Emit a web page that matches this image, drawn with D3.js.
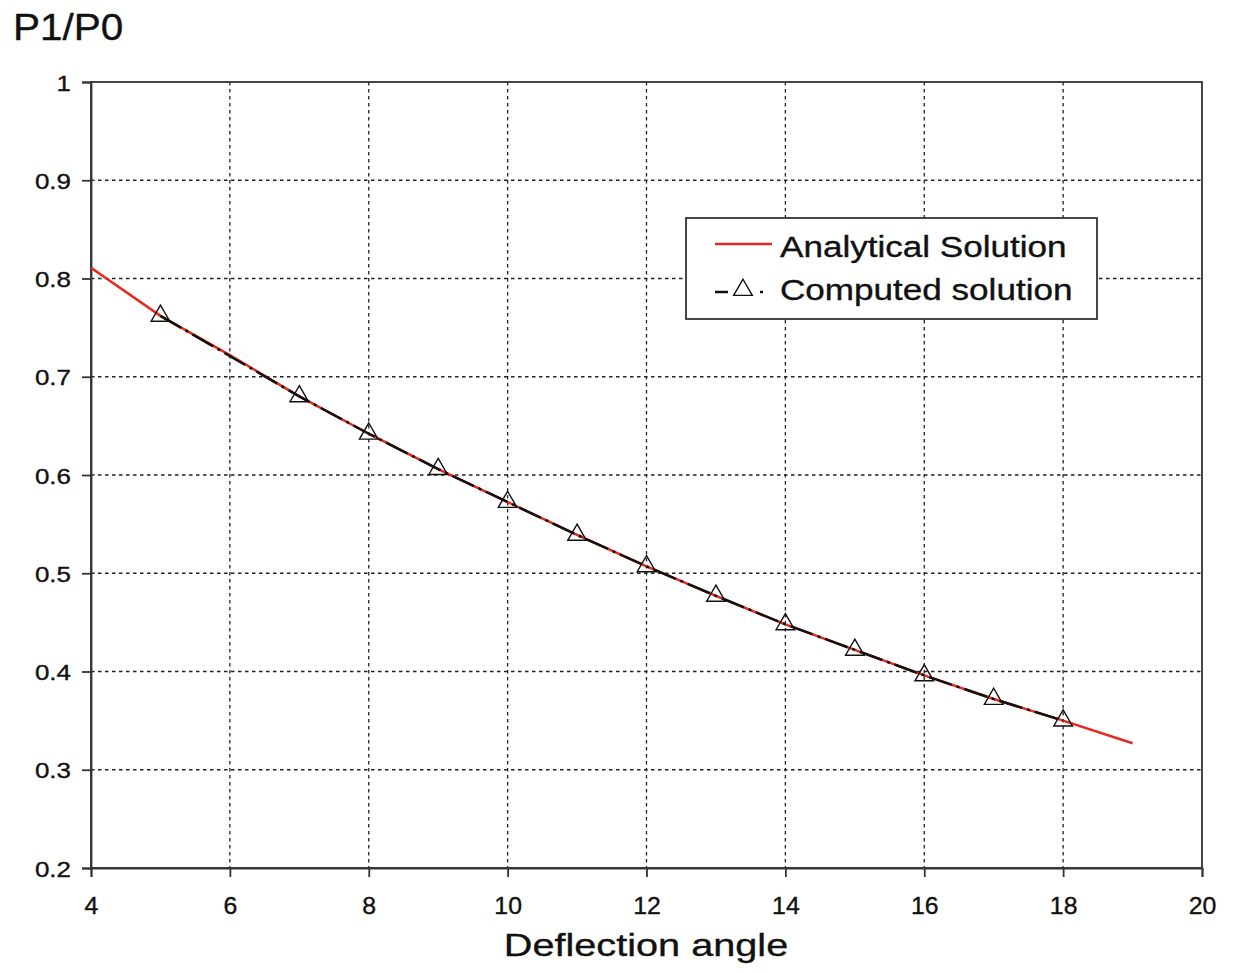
<!DOCTYPE html>
<html><head><meta charset="utf-8">
<script src="https://cdn.jsdelivr.net/npm/d3@7"></script>
<style>body{margin:0;background:#fff;font-family:"Liberation Sans",Arial,sans-serif}</style>
</head><body>
<svg id="c" width="1235" height="974"></svg>
<script>
const analyticalX = [4,5,6,7,8,9,10,11,12,13,14,15,16,17,18,19];
const analyticalY = [0.811,0.762,0.722,0.680,0.642,0.606,0.5725,0.539,0.507,0.477,0.448,0.422,0.396,0.372,0.350,0.327];
const computedX = [5,7,8,9,10,11,12,13,14,15,16,17,18];
const computedY = [0.762,0.680,0.642,0.606,0.5725,0.539,0.507,0.477,0.448,0.422,0.396,0.372,0.350];
const xTicks = [4,6,8,10,12,14,16,18,20];
const yTicks = [0.2,0.3,0.4,0.5,0.6,0.7,0.8,0.9,1];
const seriesNames = ["Analytical Solution","Computed solution"];

const FONT = "Liberation Sans, Arial, sans-serif";
const svg = d3.select("#c");
const L=91,R=1202,T=82,B=868;
const x = d3.scaleLinear().domain([4,20]).range([L,R]);
const y = d3.scaleLinear().domain([0.2,1]).range([B,T]);

// horizontally stretched text: (px,py) anchor position, k = x-scale
function addText(parent, px, py, str, size, k, anchor){
  return parent.append("text")
    .attr("transform",`translate(${px},${py}) scale(${k},1)`)
    .attr("text-anchor",anchor||"start")
    .attr("font-family",FONT).attr("font-size",size)
    .attr("fill","#111").attr("stroke","#111").attr("stroke-width",0.35)
    .text(str);
}

// grid
const g = svg.append("g");
g.selectAll(".gx").data(xTicks.filter(d=>d>4&&d<20)).join("line")
 .attr("x1",d=>x(d)).attr("x2",d=>x(d)).attr("y1",T).attr("y2",B)
 .attr("stroke","#222").attr("stroke-width",1.3).attr("stroke-dasharray","3.5,3.5");
g.selectAll(".gy").data(yTicks.filter(d=>d>0.2&&d<1)).join("line")
 .attr("x1",L).attr("x2",R).attr("y1",d=>y(d)).attr("y2",d=>y(d))
 .attr("stroke","#222").attr("stroke-width",1.3).attr("stroke-dasharray","3.5,3.5");

// frame
svg.append("rect").attr("x",L).attr("y",T).attr("width",R-L).attr("height",B-T)
 .attr("fill","none").attr("stroke","#333").attr("stroke-width",1.8);

// axes (ticks via d3 axis, labels re-drawn stretched)
const xAxis = d3.axisBottom(x).tickValues(xTicks).tickSize(9).tickFormat(d3.format("d"));
const yAxis = d3.axisLeft(y).tickValues(yTicks).tickSize(9).tickFormat(d=>d===1?"1":d3.format(".1f")(d));
const ax = svg.append("g").attr("transform",`translate(0,${B})`).call(xAxis);
const ay = svg.append("g").attr("transform",`translate(${L},0)`).call(yAxis);
[ax,ay].forEach(a=>{
  a.select(".domain").attr("stroke","#333").attr("stroke-width",1.8);
  a.selectAll(".tick line").attr("stroke","#333").attr("stroke-width",1.8);
  a.selectAll(".tick text").remove();
});
ax.selectAll(".tick").each(function(d){
  addText(d3.select(this),0,46,xAxis.tickFormat()(d),23,1.08,"middle");
});
ay.selectAll(".tick").each(function(d){
  addText(d3.select(this),-20,8,yAxis.tickFormat()(d),22,1.18,"end");
});

// lines
const lineA = d3.line().x((d,i)=>x(analyticalX[i])).y(d=>y(d));
svg.append("path").datum(analyticalY).attr("d",lineA).attr("fill","none")
 .attr("stroke","#e8281c").attr("stroke-width",2.5);
const lineC = d3.line().x((d,i)=>x(computedX[i])).y(d=>y(d));
svg.append("path").datum(computedY).attr("d",lineC).attr("fill","none")
 .attr("stroke","#111").attr("stroke-width",2.5).attr("stroke-dasharray","24,5,3,5");
const tri = d3.symbol().type(d3.symbolTriangle).size(150);
svg.selectAll(".pt").data(computedY).join("path")
 .attr("transform",(d,i)=>`translate(${x(computedX[i])},${y(d)})`)
 .attr("d",tri).attr("fill","none").attr("stroke","#111").attr("stroke-width",1.4);

// titles
addText(svg,13,40,"P1/P0",37.5,1.08);
addText(svg,646,956,"Deflection angle",32,1.24,"middle");

// legend
const lg = svg.append("g");
lg.append("rect").attr("x",686).attr("y",218).attr("width",411).attr("height",101)
 .attr("fill","#fff").attr("stroke","#333").attr("stroke-width",1.8);
lg.append("line").attr("x1",715).attr("x2",772).attr("y1",244).attr("y2",244)
 .attr("stroke","#e8281c").attr("stroke-width",2.5);
lg.append("line").attr("x1",715).attr("x2",772).attr("y1",292).attr("y2",292)
 .attr("stroke","#111").attr("stroke-width",2.5).attr("stroke-dasharray","13,8,3,8,3,10,3");
lg.append("path").attr("transform","translate(743,290)").attr("d",tri)
 .attr("fill","#fff").attr("stroke","#111").attr("stroke-width",1.4);
seriesNames.forEach((s,i)=>addText(lg,780,257+i*42.5,s,30,1.17));
</script>
</body></html>
